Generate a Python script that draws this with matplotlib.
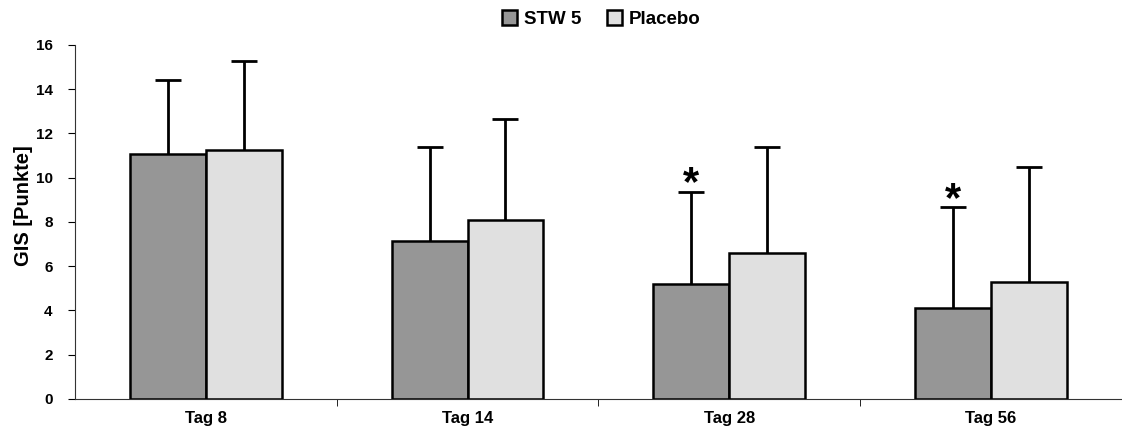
import matplotlib.pyplot as plt
from matplotlib.ticker import MultipleLocator, FixedLocator
import numpy as np

plt.rcParams['font.family'] = ['Liberation Sans', 'DejaVu Sans']
plt.rcParams['font.weight'] = 'bold'

categories = ['Tag 8', 'Tag 14', 'Tag 28', 'Tag 56']
stw = [11.05, 7.15, 5.2, 4.1]
stw_err = [3.35, 4.25, 4.15, 4.55]
placebo = [11.25, 8.1, 6.6, 5.3]
placebo_err = [4.0, 4.55, 4.8, 5.2]
signif = [False, False, True, True]

fig = plt.figure(figsize=(11.22, 4.32), dpi=100)
ax = fig.add_axes([0.0668, 0.0764, 0.933, 0.82])

x = np.arange(len(categories)) + 0.5
w = 0.29

for xs, vals, errs, col, lab in [(x - w/2, stw, stw_err, '#969696', 'STW 5'),
                                 (x + w/2, placebo, placebo_err, '#e0e0e0', 'Placebo')]:
    vals = np.array(vals)
    tops = vals + np.array(errs)
    # nur obere Fehlerbalken
    ax.vlines(xs, vals, tops, color='black', linewidth=2, zorder=1)
    ax.plot(xs, tops, linestyle='none', marker='_', markersize=19,
            markeredgewidth=2, color='black', zorder=1)
    ax.bar(xs, vals, w, color=col, edgecolor='black', linewidth=1.8,
           label=lab, zorder=2)

for xi, v, e, s in zip(x, stw, stw_err, signif):
    if s:
        ax.text(xi - w/2, v + e - 0.55, '*', ha='center', va='bottom',
                fontsize=30, fontweight='bold')

ax.set_xlim(0, 4)
ax.set_ylim(0, 16)
ax.yaxis.set_major_locator(MultipleLocator(2))
ax.set_xticks(x)
ax.set_xticklabels(categories, fontsize=12)
ax.tick_params(axis='x', which='major', length=0, pad=9)
ax.xaxis.set_minor_locator(FixedLocator([1, 2, 3]))
ax.tick_params(axis='x', which='minor', length=5, direction='out')
ax.tick_params(axis='y', labelsize=11, length=5, direction='out', pad=11)
ax.set_ylabel('GIS [Punkte]', fontsize=14.5, fontweight='bold')
ax.yaxis.set_label_coords(-0.040, 0.545)

for side in ['top', 'right']:
    ax.spines[side].set_visible(False)
for side in ['left', 'bottom']:
    ax.spines[side].set_linewidth(0.8)
    ax.spines[side].set_color('#333333')

fig.legend(loc='upper center', bbox_to_anchor=(0.536, 1.015), ncol=2, frameon=False,
           fontsize=13.5, handlelength=0.8, handleheight=0.8, handletextpad=0.35,
           columnspacing=1.4)

fig.savefig('out.png', dpi=100)
